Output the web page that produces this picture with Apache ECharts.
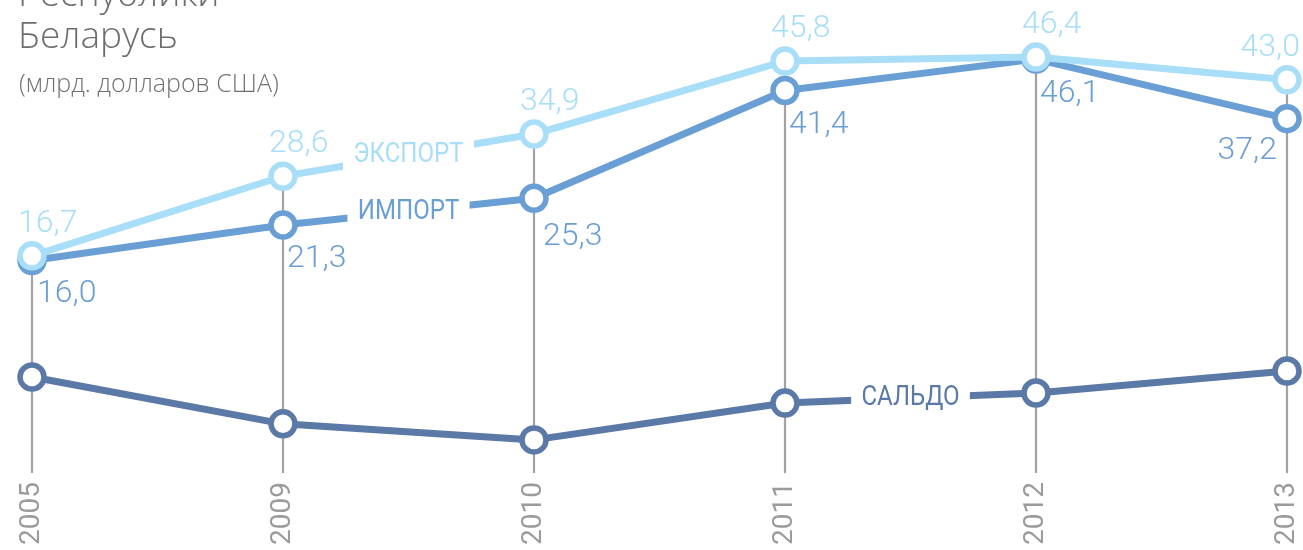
<!DOCTYPE html>
<html><head><meta charset="utf-8">
<script src="https://cdn.jsdelivr.net/npm/echarts@6/dist/echarts.min.js"></script>
<style>html,body{margin:0;padding:0;background:#fff}#c{width:1303px;height:550px}</style>
</head><body><div id="c"></div>
<script>
const years = ['2005', '2009', '2010', '2011', '2012', '2013'];
const exportVals = [16.7, 28.6, 34.9, 45.8, 46.4, 43.0];
const importVals = [16.0, 21.3, 25.3, 41.4, 46.1, 37.2];
const saldoVals = [-1.4, -8.4, -10.8, -5.3, -3.8, -0.5];
const seriesNames = ['ЭКСПОРТ', 'ИМПОРТ', 'САЛЬДО'];
const titleLines = ['Республики', 'Беларусь'];
const subtitle = '(млрд. долларов США)';

const C_EXP = '#a9def8', C_IMP = '#6a9fd5', C_SAL = '#5b79a7', C_GRAY = '#a3a3a3';
const NUMFONT = 'Roboto';
const fmt = v => v.toFixed(1).replace('.', ',');
const Y_MIN = -15, Y_MAX = 50;

const chart = echarts.init(document.getElementById('c'), null, {renderer: 'canvas'});

function lineSeries(name, vals, color, z, labelFn) {
  return {
    name, type: 'line', z,
    data: vals.map((v, i) => ({value: v, label: labelFn ? labelFn(i) : {show: false}})),
    symbol: 'circle', symbolSize: 24,
    itemStyle: {color: '#fff', borderColor: color, borderWidth: 5.5},
    lineStyle: {color, width: 7},
    emphasis: {disabled: true},
    animation: false
  };
}

const expLabel = i => {
  const last = i === years.length - 1;
  return {
    show: true, position: 'top', distance: 1,
    align: last ? 'right' : 'left', offset: [last ? 13 : -14, 0],
    formatter: p => fmt(p.value), color: C_EXP,
    fontFamily: NUMFONT, fontWeight: 300, fontSize: 32
  };
};
const impLabel = i => {
  const last = i === years.length - 1;
  const off = [[5, 0], [4, 0], [9, 5], [4, 1], [4, 1], [-10, -1]][i];
  return {
    show: true, position: 'bottom', distance: 3,
    align: last ? 'right' : 'left', offset: off,
    formatter: p => fmt(p.value), color: C_IMP,
    fontFamily: NUMFONT, fontWeight: 300, fontSize: 32
  };
};

chart.setOption({
  animation: false,
  backgroundColor: '#fff',
  title: [
    {text: titleLines.join('\n'), left: 13, top: -31,
     textStyle: {fontFamily: 'Open Sans', fontWeight: 300, fontSize: 37, color: '#6e6e6e', lineHeight: 42}},
    {text: subtitle, left: 14, top: 67,
     textStyle: {fontFamily: 'Open Sans', fontWeight: 300, fontSize: 25, color: '#707070'}}
  ],
  grid: {left: 32, right: 16, top: 33, bottom: 82},
  xAxis: {
    type: 'category', data: years, boundaryGap: false,
    axisLine: {show: false}, axisTick: {show: false}, splitLine: {show: false},
    axisLabel: {rotate: 90, margin: 14, color: '#9b9b9b', fontFamily: NUMFONT, fontSize: 28}
  },
  yAxis: {type: 'value', min: Y_MIN, max: Y_MAX, show: false, splitLine: {show: false}},
  series: [
    {
      type: 'custom', z: 1, silent: true,
      data: exportVals.map((v, i) => [i, v]),
      renderItem: (params, api) => {
        const top = api.coord([api.value(0), api.value(1)]);
        const bot = api.coord([api.value(0), Y_MIN]);
        return {type: 'line', shape: {x1: top[0], y1: top[1], x2: bot[0], y2: bot[1] + 5},
                style: {stroke: C_GRAY, lineWidth: 2.2}};
      }
    },
    lineSeries(seriesNames[2], saldoVals, C_SAL, 2, null),
    lineSeries(seriesNames[1], importVals, C_IMP, 3, impLabel),
    lineSeries(seriesNames[0], exportVals, C_EXP, 4, expLabel)
  ]
});

function midLabel(text, color, sIdx, vals, i) {
  const a = chart.convertToPixel({seriesIndex: sIdx}, [i, vals[i]]);
  const b = chart.convertToPixel({seriesIndex: sIdx}, [i + 1, vals[i + 1]]);
  return {
    type: 'text', z: 100, x: (a[0] + b[0]) / 2, y: (a[1] + b[1]) / 2, scaleX: 0.86,
    style: {text, fill: color, font: '400 28px Roboto', align: 'center', verticalAlign: 'middle',
            backgroundColor: '#fff', padding: [2, 12, 0, 12]}
  };
}
chart.setOption({
  graphic: [
    midLabel(seriesNames[0], C_EXP, 3, exportVals, 1),
    midLabel(seriesNames[1], C_IMP, 2, importVals, 1),
    midLabel(seriesNames[2], C_SAL, 1, saldoVals, 3)
  ]
});
</script></body></html>
